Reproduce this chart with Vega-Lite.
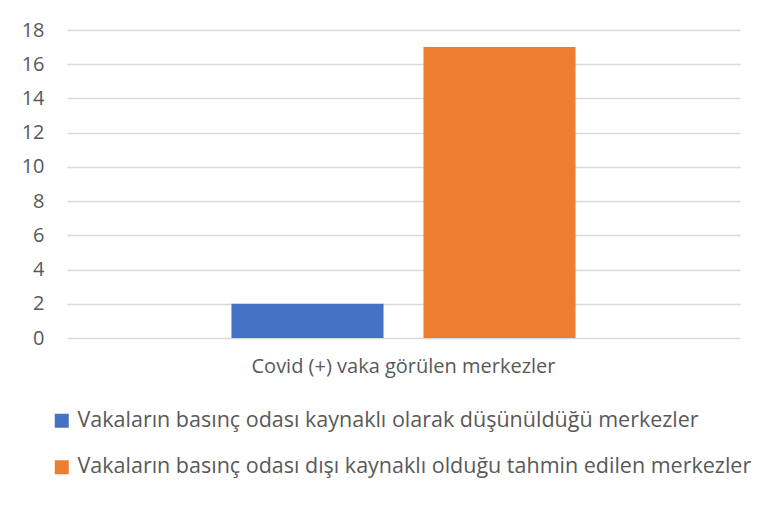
{
  "$schema": "https://vega.github.io/schema/vega-lite/v6.json",
  "width": 673,
  "height": 308,
  "autosize": {"type": "none"},
  "padding": {"left": 67, "top": 30, "right": 22, "bottom": 170},
  "background": "white",
  "data": {
    "values": [
      {"category": "Covid (+) vaka görülen merkezler", "series": "Vakaların basınç odası kaynaklı olarak düşünüldüğü merkezler", "value": 2},
      {"category": "Covid (+) vaka görülen merkezler", "series": "Vakaların basınç odası dışı kaynaklı olduğu tahmin edilen merkezler", "value": 17}
    ]
  },
  "mark": {"type": "bar"},
  "encoding": {
    "x": {
      "field": "category",
      "type": "nominal",
      "title": null,
      "scale": {"paddingInner": 0, "paddingOuter": 0.478},
      "axis": {"labelAngle": 0, "domain": false, "ticks": false, "labelPadding": 18, "labelFontSize": 20, "labelColor": "#595959", "labelFont": "Open Sans", "labelLimit": 600}
    },
    "xOffset": {
      "field": "series",
      "type": "nominal",
      "sort": ["Vakaların basınç odası kaynaklı olarak düşünüldüğü merkezler", "Vakaların basınç odası dışı kaynaklı olduğu tahmin edilen merkezler"],
      "scale": {"paddingInner": 0.208, "paddingOuter": 0}
    },
    "y": {
      "field": "value",
      "type": "quantitative",
      "title": null,
      "scale": {"domain": [0, 18], "nice": false},
      "axis": {"values": [0, 2, 4, 6, 8, 10, 12, 14, 16, 18], "domain": false, "ticks": false, "labelPadding": 23, "labelFontSize": 20, "labelColor": "#595959", "labelFont": "Open Sans", "gridColor": "#d9d9d9", "gridWidth": 1.5}
    },
    "color": {
      "field": "series",
      "type": "nominal",
      "sort": ["Vakaların basınç odası kaynaklı olarak düşünüldüğü merkezler", "Vakaların basınç odası dışı kaynaklı olduğu tahmin edilen merkezler"],
      "scale": {"range": ["#4472C4", "#ED7D31"]},
      "legend": {
        "title": null,
        "orient": "none",
        "legendX": -16,
        "legendY": 380,
        "direction": "vertical",
        "symbolType": "square",
        "symbolSize": 196,
        "symbolStrokeWidth": 0,
        "symbolOpacity": 1,
        "labelFontSize": 21.5,
        "labelFont": "Open Sans",
        "labelColor": "#595959",
        "labelOffset": 5,
        "labelLimit": 800,
        "rowPadding": 23.5
      }
    }
  },
  "config": {"view": {"stroke": null}}
}
